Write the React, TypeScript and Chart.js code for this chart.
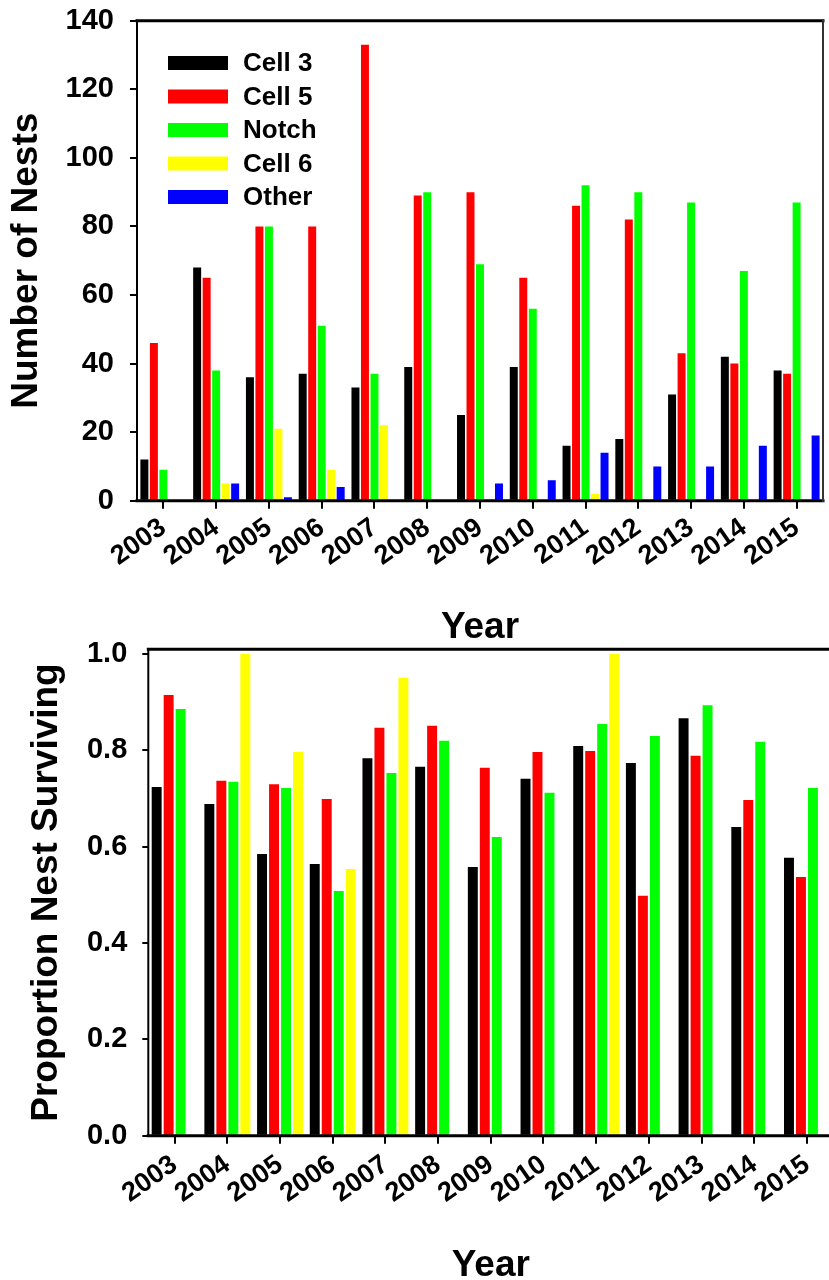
import React, { useEffect, useRef } from 'react';
import { Chart, registerables } from 'chart.js';

Chart.register(...registerables);

const FONT = '"Liberation Sans", Arial, Helvetica, sans-serif';

// ---- Data ----
const years = ['2003', '2004', '2005', '2006', '2007', '2008', '2009', '2010', '2011', '2012', '2013', '2014', '2015'];

const seriesNames = ['Cell 3', 'Cell 5', 'Notch', 'Cell 6', 'Other'];
const seriesColors = ['#000000', '#ff0000', '#00ff00', '#ffff00', '#0000ff'];

// Number of nests
const nestCell3 = [12, 68, 36, 37, 33, 39, 25, 39, 16, 18, 31, 42, 38];
const nestCell5 = [46, 65, 80, 80, 133, 89, 90, 65, 86, 82, 43, 40, 37];
const nestNotch = [9, 38, 80, 51, 37, 90, 69, 56, 92, 90, 87, 67, 87];
const nestCell6 = [null, 5, 21, 9, 22, null, null, null, 2, null, null, null, null];
const nestOther = [null, 5, 1, 4, null, null, 5, 6, 14, 10, 10, 16, 19];

// Proportion nest surviving
const survCell3 = [0.724, 0.689, 0.585, 0.564, 0.784, 0.766, 0.558, 0.741, 0.809, 0.774, 0.867, 0.641, 0.577];
const survCell5 = [0.915, 0.737, 0.73, 0.699, 0.847, 0.851, 0.764, 0.797, 0.799, 0.498, 0.789, 0.697, 0.537];
const survNotch = [0.886, 0.735, 0.722, 0.508, 0.753, 0.82, 0.62, 0.712, 0.855, 0.83, 0.894, 0.818, 0.722];
const survCell6 = [null, 1.0, 0.797, 0.554, 0.951, null, null, null, 1.0, null, null, null, null];

const nestTicks = [0, 20, 40, 60, 80, 100, 120, 140];
const survTicks = [0, 0.2, 0.4, 0.6, 0.8, 1.0];

// ---- Plugins ----
function framePlugin(id: string, sides: { top?: boolean; right?: boolean }) {
  return {
    id,
    afterDatasetsDraw(chart: any) {
      const { ctx, chartArea: a } = chart;
      ctx.save();
      ctx.lineCap = 'square';
      ctx.strokeStyle = '#000';
      ctx.lineWidth = 2;
      ctx.beginPath();
      ctx.moveTo(a.left, a.top);
      ctx.lineTo(a.left, a.bottom);
      ctx.stroke();
      ctx.lineWidth = 3;
      ctx.beginPath();
      ctx.moveTo(a.left, a.bottom);
      ctx.lineTo(a.right, a.bottom);
      ctx.stroke();
      if (sides.top) {
        ctx.lineWidth = 3;
        ctx.beginPath();
        ctx.moveTo(a.left, a.top);
        ctx.lineTo(a.right, a.top);
        ctx.stroke();
      }
      if (sides.right) {
        ctx.strokeStyle = '#333';
        ctx.lineWidth = 2;
        ctx.beginPath();
        ctx.moveTo(a.right, a.top);
        ctx.lineTo(a.right, a.bottom);
        ctx.stroke();
      }
      ctx.restore();
    },
  };
}

const legendPlugin = {
  id: 'insideLegend',
  afterDraw(chart: any) {
    const { ctx, chartArea: a } = chart;
    ctx.save();
    ctx.font = `bold 26px ${FONT}`;
    ctx.textBaseline = 'middle';
    ctx.textAlign = 'left';
    chart.data.datasets.forEach((ds: any, i: number) => {
      const cy = a.top + 42.3 + i * 33.5;
      const x0 = a.left + 31;
      ctx.fillStyle = ds.backgroundColor;
      ctx.fillRect(x0, cy - 7, 60, 14);
      ctx.fillStyle = '#000';
      ctx.fillText(ds.label, x0 + 75, cy + 1);
    });
    ctx.restore();
  },
};

function tickFont(size: number) {
  return { family: FONT, size, weight: 'bold' as const };
}

function noPad(s: any) {
  s.paddingTop = 0;
  s.paddingBottom = 0;
  s.paddingLeft = 0;
  s.paddingRight = 0;
}

function makeTop(canvas: HTMLCanvasElement) {
  const values = [nestCell3, nestCell5, nestNotch, nestCell6, nestOther];
  return new Chart(canvas, {
    type: 'bar',
    data: {
      labels: years,
      datasets: values.map((v, i) => ({
        label: seriesNames[i],
        data: v as any,
        backgroundColor: seriesColors[i],
        borderWidth: 0,
        categoryPercentage: 0.9,
        barPercentage: 0.84,
      })),
    },
    options: {
      responsive: false,
      animation: false,
      devicePixelRatio: 1,
      layout: { padding: { left: 0, right: 6, top: 20.7, bottom: 0 } },
      plugins: { legend: { display: false }, tooltip: { enabled: false } },
      scales: {
        x: {
          grid: { display: true, drawOnChartArea: false, drawTicks: true, tickLength: 8, offset: false, color: '#000', lineWidth: 2 },
          border: { display: false },
          ticks: { autoSkip: false, minRotation: 35, maxRotation: 35, padding: 3, color: '#000', font: tickFont(27) },
          title: { display: true, text: 'Year', color: '#000', font: { family: FONT, size: 37, weight: 'bold', lineHeight: 1 }, padding: { top: 0, bottom: 0 } },
          afterFit: (s: any) => { s.height = 145.3; noPad(s); },
        },
        y: {
          min: 0,
          max: 140,
          afterBuildTicks: (s: any) => { s.ticks = nestTicks.map((v) => ({ value: v })); },
          ticks: { padding: 16, color: '#000', font: tickFont(29) },
          grid: { display: true, drawOnChartArea: false, drawTicks: true, tickLength: 7, color: '#000', lineWidth: 2 },
          border: { display: false },
          title: { display: true, text: 'Number of Nests', color: '#000', font: { family: FONT, size: 37, weight: 'bold', lineHeight: 1 }, padding: { top: 8, bottom: 0 } },
          afterFit: (s: any) => { s.width = 137; noPad(s); },
        },
      },
    } as any,
    plugins: [framePlugin('frameTop', { top: true, right: true }), legendPlugin],
  });
}

function makeBottom(canvas: HTMLCanvasElement) {
  const values = [survCell3, survCell5, survNotch, survCell6];
  return new Chart(canvas, {
    type: 'bar',
    data: {
      labels: years,
      datasets: values.map((v, i) => ({
        label: seriesNames[i],
        data: v as any,
        backgroundColor: seriesColors[i],
        borderWidth: 0,
        categoryPercentage: 0.91,
        barPercentage: 0.83,
      })),
    },
    options: {
      responsive: false,
      animation: false,
      devicePixelRatio: 1,
      layout: { padding: { left: 0, right: 6.7, top: 19.3, bottom: 0 } },
      plugins: { legend: { display: false }, tooltip: { enabled: false } },
      scales: {
        x: {
          grid: { display: true, drawOnChartArea: false, drawTicks: true, tickLength: 8, offset: false, color: '#000', lineWidth: 2 },
          border: { display: false },
          ticks: { autoSkip: false, minRotation: 35, maxRotation: 35, padding: 5, color: '#000', font: tickFont(27) },
          title: { display: true, text: 'Year', color: '#000', font: { family: FONT, size: 37, weight: 'bold', lineHeight: 1 }, padding: { top: 0, bottom: 0 } },
          afterFit: (s: any) => { s.height = 148.3; noPad(s); },
        },
        y: {
          min: 0,
          max: 1.01,
          afterBuildTicks: (s: any) => { s.ticks = survTicks.map((v) => ({ value: v })); },
          ticks: { padding: 15, color: '#000', font: tickFont(29), callback: (v: any) => Number(v).toFixed(1) },
          grid: { display: true, drawOnChartArea: false, drawTicks: true, tickLength: 6, color: '#000', lineWidth: 2 },
          border: { display: false },
          title: { display: true, text: 'Proportion Nest Surviving', color: '#000', font: { family: FONT, size: 37, weight: 'bold', lineHeight: 1 }, padding: { top: 28.3, bottom: 0 } },
          afterFit: (s: any) => { s.width = 148.3; noPad(s); },
        },
      },
    } as any,
    plugins: [framePlugin('frameBottom', { top: true, right: false })],
  });
}

export default function App() {
  const topRef = useRef<HTMLCanvasElement>(null);
  const bottomRef = useRef<HTMLCanvasElement>(null);

  useEffect(() => {
    const c1 = makeTop(topRef.current!);
    const c2 = makeBottom(bottomRef.current!);
    return () => {
      c1.destroy();
      c2.destroy();
    };
  }, []);

  return (
    <div style={{ position: 'absolute', left: 0, top: 0, width: 829, height: 1280, overflow: 'hidden', background: '#fff' }}>
      <canvas ref={topRef} width={829} height={646} style={{ position: 'absolute', left: 0, top: 0 }} />
      <canvas ref={bottomRef} width={840} height={654} style={{ position: 'absolute', left: 0, top: 630 }} />
    </div>
  );
}
